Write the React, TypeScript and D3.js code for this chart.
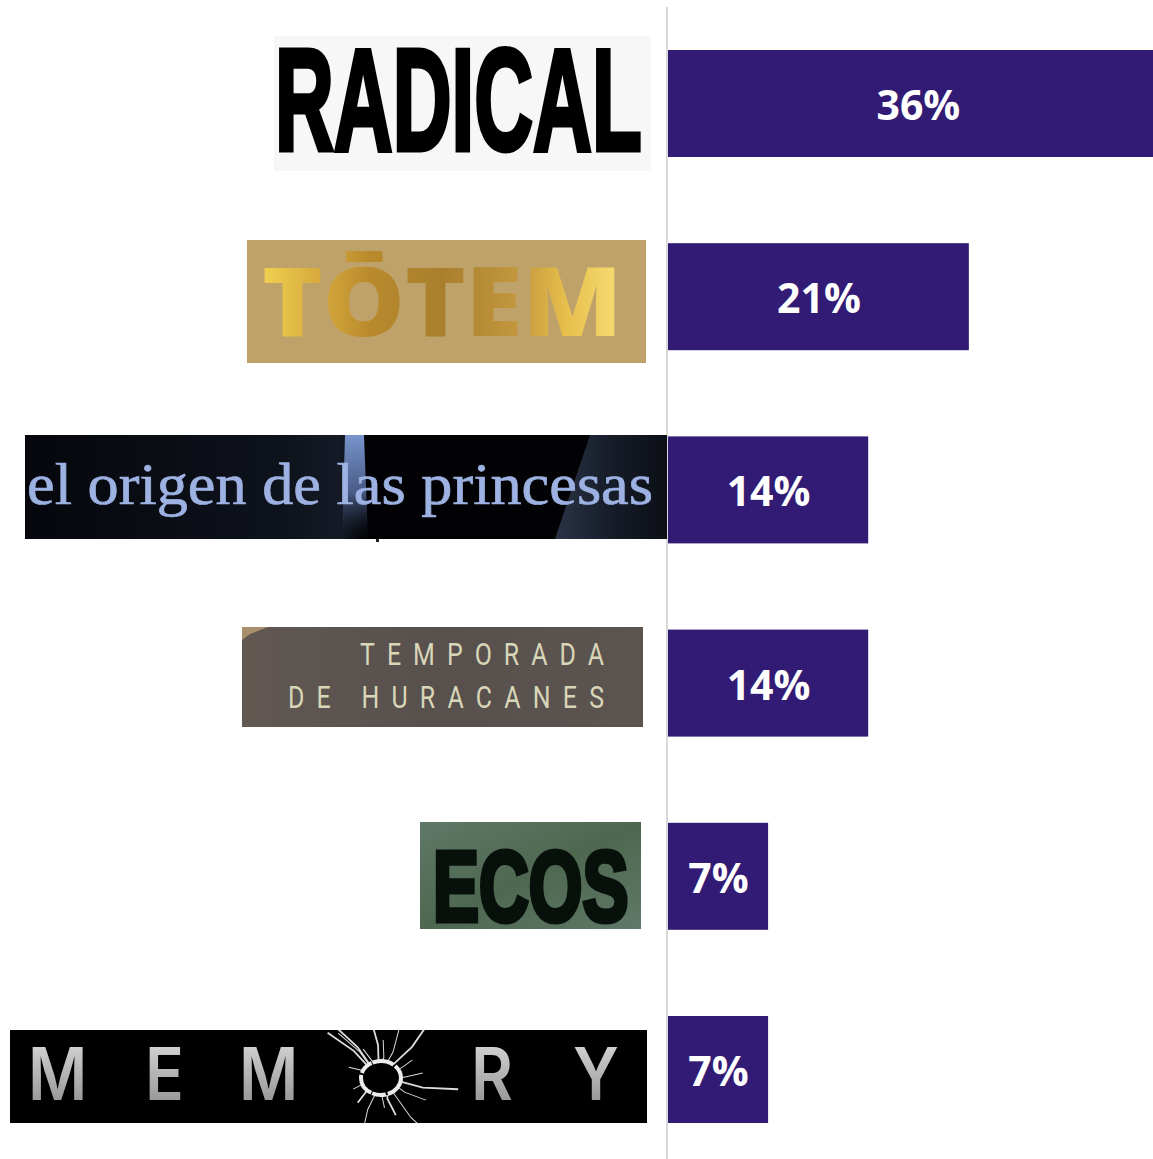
import React from "react";
import * as d3 from "d3";

// ---- data ----
const categories = ["RADICAL", "TŌTEM", "el origen de las princesas", "TEMPORADA DE HURACANES", "ECOS", "MEMORY"];
const shares = [35.7, 21.49, 14.3, 14.3, 7.15, 7.15];
const temporadaLines = ["TEMPORADA", "DE HURACANES"];
const memoryLetters = "MEMORY";

// ---- layout ----
const W = 1153;
const H = 1159;
const BAR = "#321b74";
const x = d3.scaleLinear().domain([0, 100]).range([668, 2068]);
const y = d3.scaleBand<string>().domain(categories).range([50, 1123]).paddingInner(1 - 107 / 193.2);
const fmt = (v: number) => `${Math.round(v)}%`;
const SANS = "'Liberation Sans', Arial, sans-serif";
const MEM_SCALE = 0.88;
const memoryX = [28, 145, 239, 362, 471, 573];

// crack lines radiating from the bullet hole in the MEMORY logo
const crackAngles = [-48, -42, -30, -8, 5, 22, 42, 62, 85, 100, 118, 140, 160, 175, 200, 225, 250, 290, 320];
const crackLengths = [70, 62, 34, 60, 38, 52, 80, 36, 42, 78, 50, 90, 40, 30, 62, 34, 30, 34, 70];

function Logos() {
  const cx = 381;
  const cy = 1078;
  const crack = d3.lineRadial<[number, number]>();
  return (
    <g>
      {/* RADICAL */}
      <rect x={274} y={36} width={377} height={135} fill="#f7f7f7" />
      <text transform="translate(275,150) scale(0.566,1)" fontFamily={SANS} fontWeight={700} fontSize={144}
        fill="#000" stroke="#000" strokeWidth={4} style={{ vectorEffect: "non-scaling-stroke" }}>{categories[0]}</text>

      {/* TOTEM */}
      <rect x={247} y={240} width={399} height={123} fill="#bfa26a" />
      <text x={262} y={336} fontFamily="'Open Sans', sans-serif" fontWeight={800} fontSize={95} fill="url(#gold)"
        textLength={360} lengthAdjust="spacingAndGlyphs">{categories[1]}</text>

      {/* el origen de las princesas */}
      <rect x={25} y={435} width={642} height={104} fill="url(#origenBase)" />
      <polygon points="345,435 364,435 368,539 342,539" fill="url(#origenPatch)" />
      <polygon points="590,435 667,435 667,539 555,539" fill="url(#origenRight)" />
      <rect x={376} y={539} width={3} height={3} fill="#222" />
      <text x={27} y={504} fontFamily="'Liberation Serif', serif" fontSize={60} fill="#9db2e2" stroke="#9db2e2" strokeWidth={0.7}
        textLength={626} lengthAdjust="spacingAndGlyphs">{categories[2]}</text>

      {/* TEMPORADA DE HURACANES */}
      <rect x={242} y={627} width={401} height={100} fill="url(#tempBg)" />
      <polygon points="242,627 268,627 250,634 242,640" fill="#a8906c" />
      <g fontFamily="'Roboto', sans-serif" fontWeight={400} fontSize={32} fill="#d8d6b8">
        <text transform="translate(360,665) scale(0.78,1)" textLength={244 / 0.78} lengthAdjust="spacing">{temporadaLines[0]}</text>
        <text transform="translate(288,708) scale(0.78,1)" textLength={316 / 0.78} lengthAdjust="spacing">{temporadaLines[1]}</text>
      </g>

      {/* ECOS */}
      <rect x={420} y={822} width={221} height={107} fill="url(#ecosBg)" />
      <text transform="translate(433,921) scale(0.69,1)" fontFamily={SANS} fontWeight={700} fontSize={100}
        fill="#07100b" stroke="#07100b" strokeWidth={4.5} style={{ vectorEffect: "non-scaling-stroke" }}>{categories[4]}</text>

      {/* MEMORY */}
      <rect x={10} y={1030} width={637} height={93} fill="#000" />
      <clipPath id="memClip"><rect x={10} y={1030} width={637} height={93} /></clipPath>
      <g clipPath="url(#memClip)">
        <g transform={`translate(${cx},${cy})`}>
          {crackAngles.map((a, i) => (
            <path key={i} transform={`rotate(${a})`} stroke="#dcdcdc" strokeWidth={i % 3 === 0 ? 1.8 : 1}
              fill="none" d={crack([[0, 18], [0.05, crackLengths[i] * 0.55], [-0.03, crackLengths[i]]])!} />
          ))}
        </g>
      </g>
      <ellipse cx={cx} cy={cy} rx={20} ry={17} fill="#000" stroke="#ececec" strokeWidth={4} strokeDasharray="22 2 14 1" />
      <text transform={`scale(${MEM_SCALE},1)`} x={memoryX.map((v) => v / MEM_SCALE).join(" ")} y={1100}
        fontFamily="'Inter', sans-serif" fontWeight={600} fontSize={73} fill="url(#silver)">
        {memoryLetters.split("").map((c, i) => (
          <tspan key={i} fillOpacity={c === "O" ? 0 : 1}>{c}</tspan>
        ))}
      </text>
    </g>
  );
}

export default function App() {
  return (
    <svg width={W} height={H} viewBox={`0 0 ${W} ${H}`}
      style={{ position: "absolute", left: 0, top: 0, display: "block", background: "#fff" }}>
      <defs>
        <linearGradient id="gold" gradientUnits="userSpaceOnUse" x1={263} x2={621} y1={0} y2={0}>
          <stop offset="0" stopColor="#f0d050" />
          <stop offset="0.16" stopColor="#d6a93c" />
          <stop offset="0.3" stopColor="#b98a2c" />
          <stop offset="0.5" stopColor="#a97f2e" />
          <stop offset="0.72" stopColor="#c4983e" />
          <stop offset="0.85" stopColor="#e8c04c" />
          <stop offset="1" stopColor="#f5dc74" />
        </linearGradient>
        <linearGradient id="origenBase" gradientUnits="userSpaceOnUse" x1={25} x2={667} y1={0} y2={0}>
          <stop offset="0" stopColor="#05070c" />
          <stop offset="0.4" stopColor="#0e121b" />
          <stop offset="0.49" stopColor="#141a26" />
          <stop offset="0.53" stopColor="#020204" />
          <stop offset="1" stopColor="#020204" />
        </linearGradient>
        <linearGradient id="origenPatch" x1="0" x2="0" y1="0" y2="1">
          <stop offset="0" stopColor="#7f9cd6" stopOpacity={0.95} />
          <stop offset="0.55" stopColor="#5f78b0" stopOpacity={0.75} />
          <stop offset="1" stopColor="#1a2232" stopOpacity={0} />
        </linearGradient>
        <linearGradient id="origenRight" x1="0" x2="1" y1="0" y2="0">
          <stop offset="0" stopColor="#2a3346" />
          <stop offset="0.5" stopColor="#161c28" />
          <stop offset="1" stopColor="#0c0f16" />
        </linearGradient>
        <linearGradient id="tempBg" x1="0" x2="1" y1="0" y2="0">
          <stop offset="0" stopColor="#615852" />
          <stop offset="0.5" stopColor="#57504d" />
          <stop offset="1" stopColor="#5c544f" />
        </linearGradient>
        <linearGradient id="ecosBg" x1="0" x2="1" y1="0" y2="1">
          <stop offset="0" stopColor="#5f7868" />
          <stop offset="0.5" stopColor="#4e6850" />
          <stop offset="1" stopColor="#607868" />
        </linearGradient>
        <linearGradient id="silver" gradientUnits="userSpaceOnUse" x1={0} x2={0} y1={1047} y2={1100}>
          <stop offset="0" stopColor="#cfcfcf" />
          <stop offset="1" stopColor="#9a9a9a" />
        </linearGradient>
      </defs>

      <line x1={667} x2={667} y1={7} y2={H} stroke="#d9d9d9" strokeWidth={2} />

      <Logos />

      {categories.map((c, i) => {
        const by = y(c)!;
        const bw = y.bandwidth();
        const w = x(shares[i]) - x(0);
        return (
          <g key={c}>
            <rect x={x(0)} y={by} width={w} height={bw} fill={BAR} />
            <text x={x(0) + w / 2 + 0.5} y={by + bw / 2 + 16.5} textAnchor="middle" fill="#fff"
              fontFamily="'Open Sans', sans-serif" fontWeight={700} fontSize={41}>{fmt(shares[i])}</text>
          </g>
        );
      })}
    </svg>
  );
}
